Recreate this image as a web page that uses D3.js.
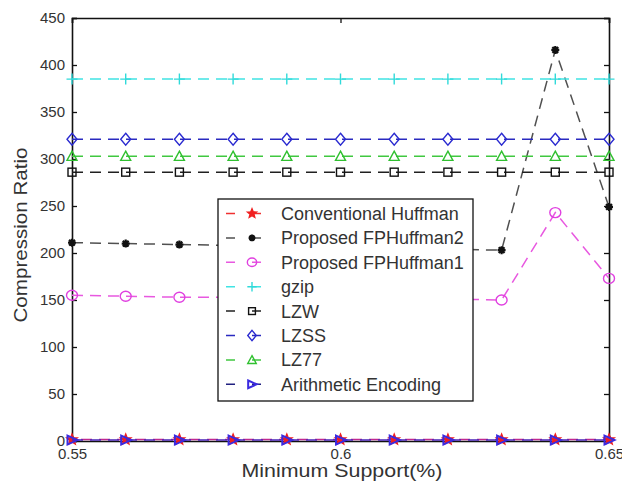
<!DOCTYPE html>
<html>
<head>
<meta charset="utf-8">
<script src="https://cdn.jsdelivr.net/npm/d3@7"></script>
<style>
  html, body { margin: 0; padding: 0; background: #fff; }
  svg { display: block; font-family: "Liberation Sans", Arial, Helvetica, sans-serif; }
</style>
</head>
<body>
<svg id="chart" width="622" height="487"></svg>
<script>
// Minimum support (%) sampled from 0.55 to 0.65
const support = [0.55, 0.56, 0.57, 0.58, 0.59, 0.60, 0.61, 0.62, 0.63, 0.64, 0.65];

// Compression ratio of each method at every support level
const conventionalHuffman = [1.5, 1.5, 1.5, 1.5, 1.5, 1.5, 1.5, 1.5, 1.5, 1.5, 1.5];
const fpHuffman2 = [211, 210, 209, 208, 207, 206, 205, 204, 203, 416, 249];
const fpHuffman1 = [155, 154, 153, 153, 152, 152, 151, 151, 150, 243, 173];
const gzip = [385, 385, 385, 385, 385, 385, 385, 385, 385, 385, 385];
const lzw = [286, 286, 286, 286, 286, 286, 286, 286, 286, 286, 286];
const lzss = [321, 321, 321, 321, 321, 321, 321, 321, 321, 321, 321];
const lz77 = [303, 303, 303, 303, 303, 303, 303, 303, 303, 303, 303];
const arithmetic = [1, 1, 1, 1, 1, 1, 1, 1, 1, 1, 1];

const seriesNames = ["Conventional Huffman", "Proposed FPHuffman2", "Proposed FPHuffman1",
  "gzip", "LZW", "LZSS", "LZ77", "Arithmetic Encoding"];
const seriesValues = [conventionalHuffman, fpHuffman2, fpHuffman1, gzip, lzw, lzss, lz77, arithmetic];

const xTicks = [0.55, 0.6, 0.65];
const yTicks = [0, 50, 100, 150, 200, 250, 300, 350, 400, 450];

// Styling per series: line colour, marker colour, marker shape, dash offset
const styles = [
  { line: "#c02890", mark: "#f02020", shape: "star", offset: 9 },
  { line: "#505050", mark: "#111", shape: "asterisk", offset: 0 },
  { line: "#e858e0", mark: "#e040e0", shape: "circle", offset: 0 },
  { line: "#40e4e4", mark: "#30dada", shape: "plus", offset: 0 },
  { line: "#202020", mark: "#111", shape: "square", offset: 0 },
  { line: "#2a2ac0", mark: "#2a2ad0", shape: "diamond", offset: 0 },
  { line: "#40c840", mark: "#30c030", shape: "triangleUp", offset: 0 },
  { line: "#4a24b8", mark: "#3a2ae0", shape: "triangleRight", offset: 0 }
];
const legendLine = ["#f03030", "#505050", "#e858e0", "#40e4e4", "#202020", "#2a2ac0", "#40c840", "#202080"];

const svg = d3.select("#chart");
const plot = { left: 72, right: 609, top: 18, bottom: 441 };

const x = d3.scaleLinear().domain([0.55, 0.65]).range([plot.left, plot.right]);
const y = d3.scaleLinear().domain([0, 450]).range([plot.bottom, plot.top]);

function drawMarker(g, shape, cx, cy, color, k = 1) {
  const s = g.append("g").attr("transform", `translate(${cx},${cy}) scale(${k})`)
    .attr("fill", "none").attr("stroke", color).attr("stroke-width", 1.4 / k);
  if (shape === "circle") {
    s.append("ellipse").attr("rx", 5.5).attr("ry", 5);
  } else if (shape === "square") {
    s.append("rect").attr("x", -4).attr("y", -4).attr("width", 8).attr("height", 8);
  } else if (shape === "diamond") {
    s.append("path").attr("d", "M0,-6L5,0L0,6L-5,0Z");
  } else if (shape === "triangleUp") {
    s.append("path").attr("d", "M0,-5L5,4.2L-5,4.2Z");
  } else if (shape === "triangleRight") {
    s.append("path").attr("d", "M-4.5,-4.5L5.5,0L-4.5,4.5Z").attr("stroke-width", 2 / k);
  } else if (shape === "plus") {
    s.append("path").attr("d", "M-5.5,0H5.5M0,-5.5V5.5");
  } else if (shape === "asterisk") {
    s.append("path").attr("d", "M-4,0H4M0,-4V4M-2.9,-2.9L2.9,2.9M-2.9,2.9L2.9,-2.9")
      .attr("stroke-width", 2.2 / k);
  } else if (shape === "star") {
    const pts = [];
    for (let i = 0; i < 10; i++) {
      const r = i % 2 === 0 ? 5.5 : 2.4;
      const a = -Math.PI / 2 + i * Math.PI / 5;
      pts.push([r * Math.cos(a), r * Math.sin(a)]);
    }
    s.append("path").attr("d", "M" + pts.map(p => p.join(",")).join("L") + "Z")
      .attr("fill", color);
  }
}

// Axis box background
svg.append("rect")
  .attr("x", plot.left).attr("y", plot.top)
  .attr("width", plot.right - plot.left).attr("height", plot.bottom - plot.top)
  .attr("fill", "#fff").attr("stroke", "none");

// Axes with inward ticks
const axisFont = 15;
const bottomAxis = d3.axisBottom(x).tickValues(xTicks).tickSize(-5).tickPadding(10)
  .tickFormat(d => d3.format("")(+d.toFixed(2)));
const gx = svg.append("g").attr("transform", `translate(0,${plot.bottom})`).call(bottomAxis);
const topAxis = d3.axisTop(x).tickValues(xTicks).tickSize(-5).tickFormat("");
const gxt = svg.append("g").attr("transform", `translate(0,${plot.top})`).call(topAxis);
const leftAxis = d3.axisLeft(y).tickValues(yTicks).tickSize(-5).tickPadding(7);
const gy = svg.append("g").attr("transform", `translate(${plot.left},0)`).call(leftAxis);
const rightAxis = d3.axisRight(y).tickValues(yTicks).tickSize(-5).tickFormat("");
const gyr = svg.append("g").attr("transform", `translate(${plot.right},0)`).call(rightAxis);

[gx, gxt, gy, gyr].forEach(g => {
  g.select(".domain").attr("stroke", "#111").attr("stroke-width", 1.6);
  g.selectAll(".tick line").attr("stroke", "#111").attr("stroke-width", 1.3);
  g.selectAll("text").attr("font-size", axisFont).attr("fill", "#333")
    .attr("font-family", "'Liberation Sans', Arial, sans-serif");
});
gx.selectAll(".tick text").attr("dy", "0.5em");

// Series lines and markers
const line = d3.line().x((d, i) => x(support[i])).y(d => y(d));
const series = svg.append("g");
seriesValues.forEach((vals, k) => {
  const st = styles[k];
  series.append("path").datum(vals)
    .attr("d", line)
    .attr("fill", "none")
    .attr("stroke", st.line)
    .attr("stroke-width", 1.5)
    .attr("stroke-dasharray", "11,7")
    .attr("stroke-dashoffset", st.offset);
  vals.forEach((v, i) => drawMarker(series, st.shape, x(support[i]), y(v), st.mark));
});

// Axis titles
svg.append("text")
  .attr("x", 342).attr("y", 477)
  .attr("text-anchor", "middle")
  .attr("font-size", 19).attr("fill", "#333")
  .attr("textLength", 201).attr("lengthAdjust", "spacingAndGlyphs")
  .text("Minimum Support(%)");
svg.append("text")
  .attr("transform", "translate(27,235) rotate(-90)")
  .attr("text-anchor", "middle")
  .attr("font-size", 19).attr("fill", "#333")
  .attr("textLength", 175).attr("lengthAdjust", "spacingAndGlyphs")
  .text("Compression Ratio");

// Legend
const legend = svg.append("g");
legend.append("rect")
  .attr("x", 218).attr("y", 199).attr("width", 255).attr("height", 202)
  .attr("fill", "#fff").attr("stroke", "#111").attr("stroke-width", 1.3);
seriesNames.forEach((name, k) => {
  const st = styles[k];
  const cy = 213.5 + k * 24.4;
  legend.append("path")
    .attr("d", `M226,${cy}H278`)
    .attr("stroke", legendLine[k]).attr("stroke-width", 1.5)
    .attr("stroke-dasharray", "9,17");
  drawMarker(legend, st.shape, 252, cy, st.mark, 0.85);
  legend.append("text")
    .attr("x", 281).attr("y", cy + 6.5)
    .attr("font-size", 18).attr("fill", "#333")
    .text(name);
});
</script>
</body>
</html>
